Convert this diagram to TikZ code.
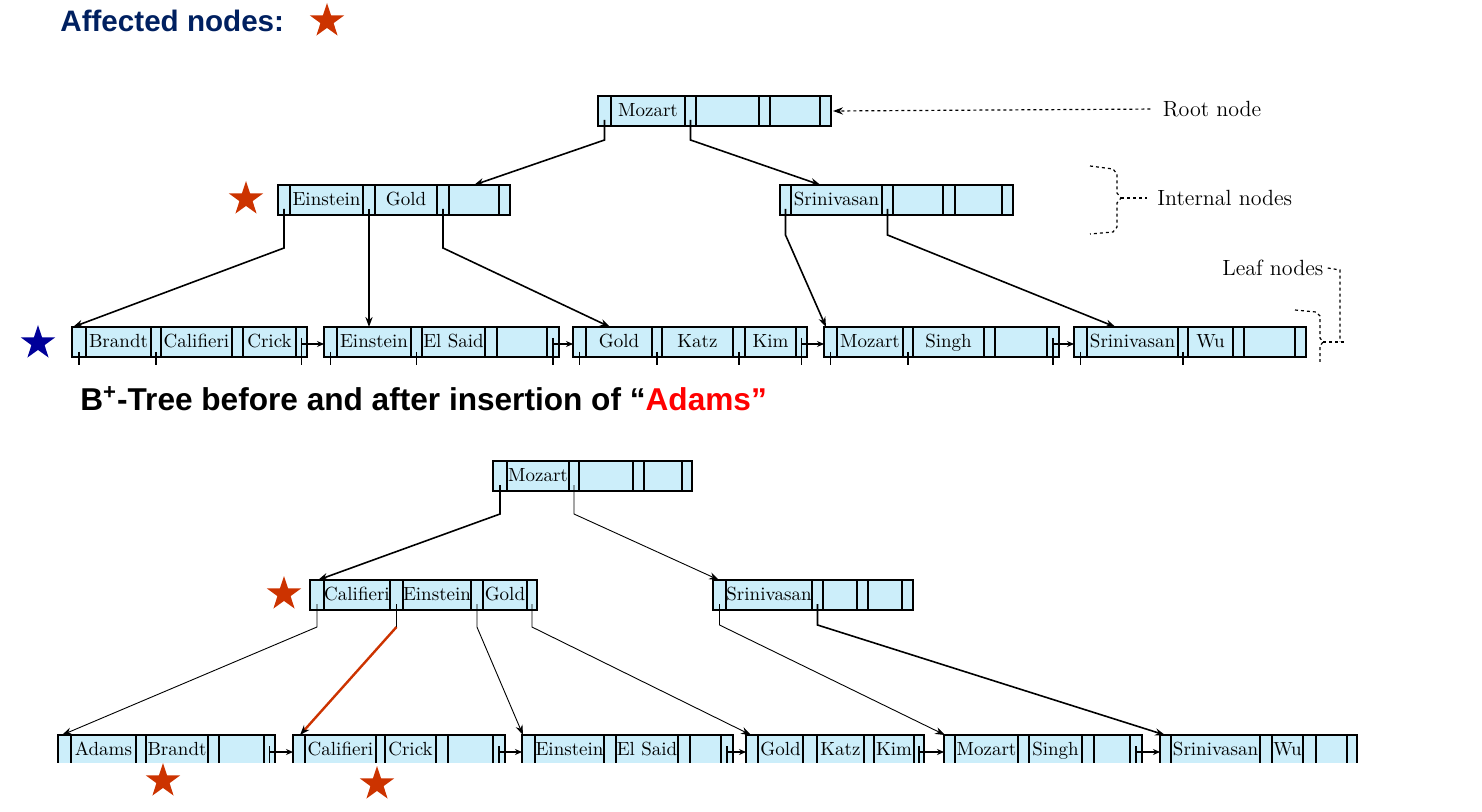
\documentclass[tikz,border=0pt]{standalone}
\usepackage{fontspec}
\newfontfamily\headfont{Liberation Sans}
\usetikzlibrary{arrows.meta,positioning,shapes.geometric}
\definecolor{cellblue}{RGB}{204,238,250}
\definecolor{starred}{RGB}{204,51,0}
\definecolor{starblue}{RGB}{0,0,153}
\definecolor{headnavy}{RGB}{0,32,96}
\definecolor{adamsred}{RGB}{255,0,0}
\newcommand\px{0.5pt}
% one B+-tree node: name, top-left corner, first pointer width, key/key width/pointer width
\newcommand\bpnode[4]{%
  \node[ptr, minimum width=#3*\px, anchor=north west] (#1-p1) at (#2) {};
  \foreach \kname/\kw/\pw [count=\i] in {#4}{%
    \pgfmathtruncatemacro\j{\i+1}
    \node[cell, minimum width=\kw*\px, right=0pt of #1-p\i] (#1-k\i) {\kname};
    \node[ptr, minimum width=\pw*\px, right=0pt of #1-k\i] (#1-p\j) {};
  }%
}
\begin{document}
\begin{tikzpicture}[x=\px, y=-\px, >={Stealth[length=5pt,width=3.6pt]},
    ptr/.style={draw, fill=cellblue, line width=0.8pt, minimum height=30*\px, inner sep=0pt, outer sep=0pt},
    cell/.style={ptr, font=\fontsize{9.5}{11}\selectfont, text height=1.6ex, text depth=0.3ex},
    ptrtick/.style={line width=0.8pt},
    link/.style={line width=0.8pt, ->},
    thinlink/.style={line width=0.45pt, ->},
    redlink/.style={draw=starred, line width=1.2pt, -{Stealth[length=5pt,width=3.6pt,color=black]}},
    nextptr/.style={line width=0.8pt, -{Stealth[length=3.5pt,width=3pt]}},
    guide/.style={line width=0.6pt, dash pattern=on 1.5pt off 1.5pt},
    lbl/.style={font=\fontsize{11}{13}\selectfont, inner sep=1pt},
    astar/.style={star, star points=5, star point ratio=2.6, minimum size=18pt, inner sep=0pt}]
  \useasboundingbox (0,0) rectangle (1482,812);

  % headings and markers
  \node[anchor=base west, inner sep=0pt, text=headnavy, font=\headfont\bfseries\fontsize{14.8}{18}\selectfont] (affected) at (60,32) {Affected nodes:};
  \node[astar, fill=starred] (starkey) at (327,21) {};
  \node[anchor=base west, inner sep=0pt, font=\headfont\bfseries\fontsize{15.8}{19}\selectfont] (caption) at (80,410)
    {B\textsuperscript{+}-Tree before and after insertion of “\textcolor{adamsred}{Adams”}};

  % tree before
  \bpnode{root}{598,96}{13}{Mozart/74/11, {}/63/11, {}/50/11}
  \bpnode{ein}{278,185}{12}{Einstein/73/12, Gold/62/12, {}/50/11}
  \bpnode{srin}{780,185}{11}{Srinivasan/91/11, {}/50/12, {}/47/11}
  \bpnode{lfA}{72,327}{14}{Brandt/65/10, Califieri/71/11, Crick/53/11}
  \bpnode{lfB}{324,327}{13}{Einstein/74/11, El Said/63/12, {}/50/12}
  \bpnode{lfC}{573,327}{13}{Gold/66/10, Katz/71/12, Kim/51/11}
  \bpnode{lfD}{824,327}{13}{Mozart/66/10, Singh/71/11, {}/52/12}
  \bpnode{lfE}{1074,327}{13}{Srinivasan/91/10, Wu/45/11, {}/51/11}
  \node[astar, fill=starred] (starein) at (246,199) {};
  \node[astar, fill=starblue] (starleaf) at (38,343) {};

  \draw[link] ([yshift=3pt]root-p1.south) -- ([yshift=-7pt]root-p1.south) -- (ein-k3.north);
  \draw[link] ([yshift=3pt]root-p2.south) -- ([yshift=-7pt]root-p2.south) -- ([xshift=-8pt]srin-k1.north);
  \draw[link] ([yshift=3pt]ein-p1.south) -- ([yshift=-16.5pt]ein-p1.south) -- ([xshift=0.5pt]lfA-p1.north west);
  \draw[link] ([yshift=3pt]ein-p2.south) -- (ein-p2 |- lfB-k1.north);
  \draw[link] ([yshift=3pt]ein-p3.south) -- ([yshift=-16.5pt]ein-p3.south) -- ([xshift=-4.5pt]lfC-k1.north);
  \draw[link] ([yshift=3pt]srin-p1.south) -- ([yshift=-10pt]srin-p1.south) -- ([xshift=1pt]lfD-p1.north west);
  \draw[link] ([yshift=3pt]srin-p2.south) -- ([yshift=-10pt]srin-p2.south) -- ([xshift=-8.5pt]lfE-k1.north);
  \foreach \c in {lfA-p1,lfA-p2,lfB-p1,lfB-p2,lfC-p1,lfC-p2,lfC-p3,lfD-p1,lfD-p2,lfE-p1,lfE-p2}
    \draw[ptrtick] ([yshift=2.5pt]\c.south) -- ([yshift=-4pt]\c.south);

  % labels
  \node[lbl] (rootlbl) at (1212,109) {Root node};
  \draw[guide, ->, shorten <=5pt] (rootlbl.west) -- ([xshift=1pt]root-p4.east);
  \node[lbl, anchor=west] (intlbl) at (1155,198) {Internal nodes};
  \draw[guide] (1090,166) -- (1113,169) -- (1117,174) -- (1117,193) -- (1121,198) -- (1117,203) -- (1117,227) -- (1113,232) -- (1090,234);
  \draw[guide, shorten >=4pt] (1121,198) -- (intlbl.west);
  \node[lbl, anchor=west] (leaflbl) at (1220,268) {Leaf nodes};
  \draw[guide] (1295,310) -- (1316,312) -- (1320,316) -- (1320,338) -- (1323,342) -- (1320,346) -- (1320,362);
  \draw[guide] ([xshift=1pt]leaflbl.east) -- (1340,270) -- (1340,342);
  \draw[guide] (1323,342) -- (1347,342);

  % tree after
  \bpnode{rootb}{493,461}{14}{Mozart/62/10, {}/54/11, {}/38/10}
  \bpnode{cal}{310,580}{14}{Califieri/66/13, Einstein/66/12, Gold/44/10}
  \bpnode{srinb}{713,580}{13}{Srinivasan/86/11, {}/34/11, {}/34/11}
  \node[astar, fill=starred] (starcal) at (284,594) {};
  \begin{scope}
    \clip (0,0) rectangle (1482,762);
    \bpnode{lbA}{58,735}{13}{Adams/65/10, Brandt/62/11, {}/45/11}
    \bpnode{lbB}{293,735}{12}{Califieri/71/9, Crick/51/12, {}/45/12}
    \bpnode{lbC}{522,735}{13}{Einstein/69/12, El Said/62/12, {}/31/12}
    \bpnode{lbD}{746,735}{12}{Gold/45/14, Katz/47/10, Kim/40/10}
    \bpnode{lbE}{944,735}{11}{Mozart/63/11, Singh/53/12, {}/36/12}
    \bpnode{lbF}{1160,735}{11}{Srinivasan/89/12, Wu/31/13, {}/31/10}
    \foreach \a/\b in {lfA/lfB,lfB/lfC,lfC/lfD,lfD/lfE,lbA/lbB,lbB/lbC,lbC/lbD,lbD/lbE,lbE/lbF}{
      \draw[ptrtick] ([yshift=2pt]\a-p4.center) -- ([yshift=-4pt]\a-p4.south);
      \draw[nextptr] ([yshift=-1pt]\a-p4.center) -- ([yshift=-1pt]\b-p1.west);
    }
  \end{scope}
  \node[astar, fill=starred] (starlbA) at (163,781) {};
  \node[astar, fill=starred] (starlbB) at (377,784) {};

  \draw[link] ([yshift=3pt]rootb-p1.south) -- ([yshift=-11.5pt]rootb-p1.south) -- ([xshift=4pt]cal-p1.north west);
  \draw[thinlink] ([yshift=3pt]rootb-p2.south) -- ([yshift=-11.5pt]rootb-p2.south) -- ([xshift=3pt]srinb-p1.north west);
  \draw[thinlink] ([yshift=3pt]cal-p1.south) -- ([yshift=-8.5pt]cal-p1.south) -- ([xshift=2pt]lbA-p1.north west);
  \draw[ptrtick] ([yshift=3pt]cal-p2.south) -- ([yshift=-8.5pt]cal-p2.south) coordinate (calbend);
  \draw[redlink] (calbend) -- ([xshift=3.5pt]lbB-p1.north west);
  \draw[thinlink] ([yshift=3pt]cal-p3.south) -- ([yshift=-8.5pt]cal-p3.south) -- ([xshift=0.5pt]lbC-p1.north west);
  \draw[thinlink] ([yshift=3pt]cal-p4.south) -- ([yshift=-8.5pt]cal-p4.south) -- ([xshift=2.5pt]lbD-p1.north west);
  \draw[thinlink] ([yshift=3pt]srinb-p1.south) -- ([yshift=-7.5pt]srinb-p1.south) -- ([xshift=0.5pt]lbE-p1.north west);
  \draw[link] ([yshift=3pt]srinb-p2.south) -- ([yshift=-7.5pt]srinb-p2.south) -- ([xshift=2.5pt]lbF-p1.north west);
\end{tikzpicture}
\end{document}
